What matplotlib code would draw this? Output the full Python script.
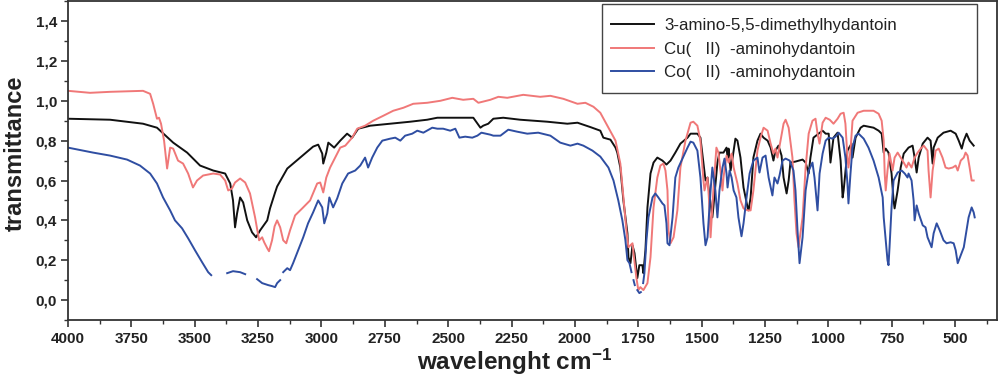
import numpy as np
import matplotlib
matplotlib.use('Agg')
import matplotlib.pyplot as plt
from matplotlib.ticker import MultipleLocator, FuncFormatter
from matplotlib.patches import Rectangle

plt.rcParams['font.family'] = ['Liberation Sans', 'DejaVu Sans']
plt.rcParams['mathtext.fontset'] = 'custom'
plt.rcParams['mathtext.rm'] = 'Liberation Sans:bold'
plt.rcParams['mathtext.bf'] = 'Liberation Sans:bold'
plt.rcParams['mathtext.default'] = 'bf'

nan = np.nan

# 3-amino-5,5-dimethylhydantoin
black_x = [4000, 3834, 3704, 3649, 3585, 3530, 3479, 3427, 3380, 3360, 3349, 3341, 3333, 3321,
           3309, 3293, 3274, 3258, 3242, 3214, 3203, 3183, 3175, 3135, 3084, 3033, 3013, 2997,
           2993, 2981, 2973, 2950, 2926, 2899, 2879, 2855, 2808, 2729, 2650, 2583, 2543, 2464,
           2401, 2373, 2362, 2342, 2322, 2283, 2216, 2109, 2030, 1990, 1939, 1900, 1888, 1860,
           1840, 1833, 1821, 1809, 1793, 1789, 1781, 1773, 1765, 1754, 1746, 1734, 1730, 1722,
           1714, 1702, 1690, 1675, 1655, 1639, 1623, 1604, 1584, 1556, 1544, 1517, 1505, 1493,
           1485, 1477, 1473, 1458, 1454, 1438, 1430, 1414, 1402, 1398, 1394, 1386, 1378, 1367,
           1359, 1347, 1335, 1319, 1315, 1307, 1296, 1280, 1268, 1256, 1240, 1228, 1217, 1209,
           1197, 1185, 1177, 1165, 1157, 1150, 1130, 1102, 1090, 1078, 1071, 1059, 1039, 1023,
           1011, 999, 992, 980, 964, 952, 944, 940, 925, 909, 905, 893, 873, 861, 822, 802,
           790, 782, 774, 763, 751, 743, 739, 727, 715, 703, 684, 668, 660, 652, 644, 628,
           609, 597, 589, 585, 569, 546, 518, 498, 486, 474, 466, 455, 443, 427]
black_y = [0.91, 0.905, 0.885, 0.865, 0.79, 0.74, 0.675, 0.65, 0.635, 0.585, 0.50, 0.365, 0.435, 0.515,
           0.49, 0.40, 0.34, 0.315, 0.35, 0.40, 0.46, 0.54, 0.57, 0.66, 0.715, 0.77, 0.78, 0.735,
           0.685, 0.74, 0.79, 0.765, 0.80, 0.835, 0.815, 0.86, 0.875, 0.885, 0.895, 0.905, 0.915, 0.915,
           0.915, 0.865, 0.875, 0.885, 0.91, 0.915, 0.905, 0.895, 0.885, 0.89, 0.868, 0.85, 0.815, 0.805,
           0.765, 0.74, 0.665, 0.50, 0.335, 0.215, 0.185, 0.275, 0.235, 0.11, 0.175, 0.175, 0.135, 0.25,
           0.465, 0.635, 0.69, 0.715, 0.70, 0.68, 0.70, 0.74, 0.785, 0.815, 0.835, 0.835, 0.815, 0.685,
           0.60, 0.615, 0.565, 0.415, 0.465, 0.69, 0.74, 0.74, 0.765, 0.715, 0.76, 0.65, 0.715, 0.81,
           0.80, 0.715, 0.565, 0.465, 0.45, 0.515, 0.715, 0.80, 0.835, 0.815, 0.80, 0.765, 0.70, 0.75,
           0.775, 0.725, 0.615, 0.535, 0.60, 0.69, 0.695, 0.705, 0.69, 0.635, 0.715, 0.815, 0.835, 0.85,
           0.835, 0.835, 0.69, 0.815, 0.84, 0.70, 0.515, 0.55, 0.75, 0.785, 0.715, 0.815, 0.865, 0.875, 0.865, 0.85,
           0.835, 0.74, 0.76, 0.74, 0.635, 0.50, 0.46, 0.55, 0.665, 0.735, 0.765, 0.775, 0.715, 0.64, 0.715, 0.785,
           0.815, 0.80, 0.685, 0.765, 0.815, 0.84, 0.85, 0.835, 0.80, 0.76, 0.80, 0.835, 0.80, 0.775]

# Cu(II)-aminohydantoin
red_x = [4000, 3913, 3834, 3704, 3676, 3664, 3649, 3641, 3633, 3621, 3609, 3597, 3585, 3566,
         3546, 3526, 3507, 3491, 3467, 3427, 3400, 3380, 3368, 3353, 3341, 3321, 3301, 3282,
         3262, 3246, 3234, 3226, 3214, 3207, 3195, 3185, 3175, 3163, 3151, 3139, 3124, 3104,
         3076, 3045, 3017, 3005, 2993, 2981, 2966, 2946, 2926, 2906, 2879, 2859, 2828, 2796,
         2756, 2717, 2677, 2638, 2583, 2531, 2484, 2441, 2401, 2381, 2334, 2302, 2267, 2204,
         2137, 2097, 2046, 1990, 1959, 1927, 1900, 1868, 1840, 1821, 1809, 1797, 1789, 1773,
         1769, 1758, 1750, 1742, 1730, 1714, 1702, 1690, 1675, 1663, 1651, 1643, 1635, 1631,
         1623, 1611, 1596, 1584, 1564, 1544, 1533, 1517, 1505, 1493, 1489, 1477, 1471, 1465,
         1454, 1442, 1434, 1426, 1418, 1414, 1402, 1394, 1382, 1374, 1359, 1347, 1335, 1319,
         1307, 1296, 1280, 1268, 1256, 1240, 1228, 1217, 1209, 1201, 1189, 1177, 1169, 1157,
         1142, 1134, 1126, 1118, 1102, 1090, 1078, 1063, 1051, 1043, 1035, 1023, 1011, 995,
         980, 964, 952, 940, 933, 925, 921, 913, 905, 885, 861, 822, 802, 790,
         782, 778, 774, 767, 759, 747, 739, 727, 715, 703, 692, 684, 672, 660,
         648, 636, 624, 609, 605, 597, 589, 577, 565, 550, 538, 526, 510, 498,
         490, 478, 466, 459, 451, 443, 435, 427]
red_y = [1.05, 1.04, 1.045, 1.05, 1.035, 0.985, 0.91, 0.915, 0.885, 0.80, 0.66, 0.765, 0.76, 0.70,
         0.685, 0.635, 0.565, 0.60, 0.625, 0.635, 0.63, 0.60, 0.55, 0.56, 0.59, 0.61, 0.59, 0.535,
         0.415, 0.30, 0.315, 0.29, 0.26, 0.245, 0.30, 0.37, 0.40, 0.365, 0.30, 0.285, 0.35, 0.425,
         0.46, 0.50, 0.585, 0.59, 0.54, 0.615, 0.665, 0.715, 0.765, 0.775, 0.815, 0.86, 0.875, 0.90,
         0.925, 0.95, 0.965, 0.985, 0.99, 1.00, 1.015, 1.005, 1.01, 0.99, 1.005, 1.02, 1.015, 1.03,
         1.02, 1.025, 1.01, 0.985, 0.99, 0.97, 0.94, 0.865, 0.80, 0.685, 0.515, 0.35, 0.265, 0.285,
         0.235, 0.115, 0.05, 0.065, 0.05, 0.085, 0.215, 0.465, 0.615, 0.675, 0.685, 0.65, 0.55, 0.35,
         0.285, 0.315, 0.45, 0.665, 0.80, 0.89, 0.895, 0.875, 0.80, 0.60, 0.55, 0.615, 0.50, 0.315,
         0.55, 0.765, 0.74, 0.65, 0.55, 0.615, 0.725, 0.69, 0.735, 0.665, 0.585, 0.50, 0.46, 0.45,
         0.45, 0.55, 0.75, 0.815, 0.865, 0.85, 0.785, 0.735, 0.76, 0.715, 0.80, 0.885, 0.905, 0.865,
         0.715, 0.50, 0.335, 0.265, 0.415, 0.665, 0.835, 0.90, 0.91, 0.835, 0.785, 0.89, 0.915, 0.905,
         0.885, 0.91, 0.935, 0.94, 0.885, 0.715, 0.665, 0.75, 0.90, 0.94, 0.95, 0.95, 0.935, 0.90,
         0.80, 0.635, 0.55, 0.65, 0.735, 0.65, 0.715, 0.74, 0.715, 0.69, 0.665, 0.69, 0.665, 0.715,
         0.74, 0.76, 0.775, 0.75, 0.65, 0.515, 0.65, 0.75, 0.76, 0.715, 0.665, 0.66, 0.665, 0.675,
         0.65, 0.70, 0.715, 0.74, 0.725, 0.665, 0.60, 0.60]

# Co(II)-aminohydantoin (gaps where the trace breaks off)
blue_x = [4000, 3901, 3834, 3767, 3716, 3676, 3649, 3625, 3597, 3578, 3550, 3526, 3499, 3471,
          3447, 3435, nan, 3372, 3349, 3321, 3301, nan, 3254, 3234, 3222, 3210, 3195, 3183,
          3175, 3163, nan, 3151, 3135, 3124, 3112, 3092, 3072, 3053, 3033, 3013, 2997, 2989,
          2977, 2969, 2954, 2938, 2918, 2895, 2867, 2847, 2828, 2816, 2800, 2780, 2760, 2729,
          2709, 2689, 2670, 2642, 2622, 2598, 2563, 2543, 2520, 2492, 2472, 2456, 2433, 2405,
          2385, 2369, 2334, 2322, 2294, 2263, 2228, 2188, 2145, 2097, 2058, 2018, 1990, 1967,
          1931, 1900, 1868, 1848, 1829, 1813, 1801, 1793, 1785, 1777, nan, 1769, 1764, nan,
          1754, 1746, 1740, nan, 1731, 1726, 1718, 1710, 1694, 1683, 1671, 1655, 1647, 1639,
          1635, 1627, 1615, 1604, 1592, 1576, 1556, 1544, 1533, 1517, 1505, 1493, 1485, 1477,
          1465, 1458, 1446, 1438, 1430, 1418, 1410, 1402, 1398, 1390, 1382, 1374, 1363, 1355,
          1343, 1335, 1323, 1311, 1296, 1280, 1272, 1260, 1248, 1236, 1221, 1213, 1201, 1193,
          1181, 1169, 1153, 1138, 1130, 1122, 1114, 1102, 1090, 1078, 1063, 1055, 1043, 1035,
          1023, 1011, 999, 984, 972, 960, 944, 933, 925, 921, 913, 905, 893, 881,
          861, 842, 822, 802, 786, 782, 774, 767, 763, 759, 751, 743, 727, 711,
          699, 688, 684, 672, 664, 660, 652, 644, 628, 617, 609, 601, 593, 585,
          573, 561, 546, 534, 518, 506, 498, 490, 478, 466, 455, 447, 435, 427, 423]
blue_y = [0.765, 0.74, 0.725, 0.705, 0.675, 0.635, 0.585, 0.515, 0.45, 0.40, 0.36, 0.31, 0.25, 0.19,
          0.14, 0.125, nan, 0.135, 0.145, 0.14, 0.13, nan, 0.105, 0.085, 0.08, 0.075, 0.07, 0.065,
          0.085, 0.10, nan, 0.14, 0.16, 0.15, 0.185, 0.25, 0.315, 0.385, 0.44, 0.50, 0.465, 0.385,
          0.435, 0.515, 0.465, 0.51, 0.585, 0.635, 0.65, 0.675, 0.715, 0.665, 0.715, 0.765, 0.80, 0.81,
          0.815, 0.80, 0.825, 0.835, 0.85, 0.84, 0.865, 0.86, 0.86, 0.85, 0.86, 0.815, 0.82, 0.815,
          0.825, 0.84, 0.83, 0.825, 0.825, 0.855, 0.845, 0.835, 0.84, 0.825, 0.79, 0.775, 0.785, 0.775,
          0.75, 0.72, 0.665, 0.60, 0.50, 0.40, 0.30, 0.20, 0.185, 0.14, nan, 0.10, 0.075, nan,
          0.05, 0.035, 0.04, nan, 0.085, 0.135, 0.30, 0.415, 0.515, 0.535, 0.515, 0.485, 0.475, 0.385,
          0.285, 0.275, 0.415, 0.615, 0.665, 0.71, 0.765, 0.795, 0.79, 0.75, 0.615, 0.385, 0.275, 0.315,
          0.55, 0.665, 0.55, 0.415, 0.55, 0.665, 0.71, 0.635, 0.565, 0.65, 0.615, 0.55, 0.515, 0.415,
          0.32, 0.385, 0.515, 0.635, 0.70, 0.715, 0.64, 0.715, 0.725, 0.615, 0.525, 0.615, 0.585, 0.625,
          0.70, 0.71, 0.70, 0.65, 0.55, 0.35, 0.185, 0.315, 0.55, 0.65, 0.69, 0.615, 0.45, 0.635,
          0.735, 0.80, 0.815, 0.81, 0.82, 0.84, 0.815, 0.715, 0.585, 0.485, 0.635, 0.765, 0.825, 0.835,
          0.81, 0.765, 0.70, 0.615, 0.515, 0.415, 0.30, 0.20, 0.175, 0.265, 0.465, 0.60, 0.64, 0.65,
          0.635, 0.615, 0.635, 0.60, 0.50, 0.40, 0.475, 0.435, 0.375, 0.365, 0.315, 0.29, 0.265, 0.335,
          0.385, 0.35, 0.30, 0.285, 0.29, 0.285, 0.25, 0.185, 0.225, 0.265, 0.35, 0.415, 0.465, 0.44, 0.415]

labels = ['3-amino-5,5-dimethylhydantoin', 'Cu(   II)  -aminohydantoin', 'Co(   II)  -aminohydantoin']
colors = ['#111111', '#f07878', '#2f4ea2']

fig = plt.figure(figsize=(10, 3.86), dpi=100)
ax = fig.add_axes([0.068, 0.171, 0.929, 0.826])

ax.plot(black_x, black_y, color=colors[0], lw=1.4, label=labels[0])
ax.plot(red_x, red_y, color=colors[1], lw=1.4, label=labels[1])
ax.plot(blue_x, blue_y, color=colors[2], lw=1.4, label=labels[2])

ax.set_xlim(4000, 335)
ax.set_ylim(-0.1, 1.5)
ax.xaxis.set_major_locator(MultipleLocator(250))
ax.xaxis.set_minor_locator(MultipleLocator(125))
ax.yaxis.set_major_locator(MultipleLocator(0.2))
ax.yaxis.set_minor_locator(MultipleLocator(0.1))
ax.xaxis.set_major_formatter(FuncFormatter(lambda v, p: '%d' % v if v >= 500 else ''))
ax.yaxis.set_major_formatter(FuncFormatter(lambda v, p: ('%.1f' % v).replace('.', ',') if -0.01 < v < 1.45 else ''))

ax.tick_params(which='major', direction='out', length=5, width=1.2, color='#333333',
               labelsize=11, pad=3)
ax.tick_params(which='minor', direction='out', length=3, width=1.0, color='#333333')
ax.tick_params(axis='x', pad=4)
for lab in ax.get_xticklabels() + ax.get_yticklabels():
    lab.set_fontweight('bold')
    lab.set_color('#222222')
for sp in ax.spines.values():
    sp.set_linewidth(1.3)
    sp.set_color('#333333')

# legend box is wider than its entries in the original, so the frame is drawn separately
ax.add_patch(Rectangle((0.575, 0.712), 0.403, 0.279, transform=ax.transAxes,
                       facecolor='white', edgecolor='#444444', lw=1.0, zorder=4))
leg = ax.legend(loc='upper left', bbox_to_anchor=(0.585, 0.948), borderaxespad=0,
                fontsize=12.2, frameon=False, handlelength=2.5, borderpad=0,
                labelspacing=0.52, handletextpad=0.6)
leg.set_zorder(5)
for t in leg.get_texts():
    t.set_color('#222222')

fig.text(0.015, 1 - 153 / 386, 'transmittance', rotation=90, ha='center', va='center',
         fontsize=17, fontweight='bold', color='#222222')
fig.text(0.515, 1 - 362 / 386, r'wavelenght cm$^{-1}$', ha='center', va='center',
         fontsize=17.5, fontweight='bold', color='#222222')

fig.savefig('out.png', dpi=100)
